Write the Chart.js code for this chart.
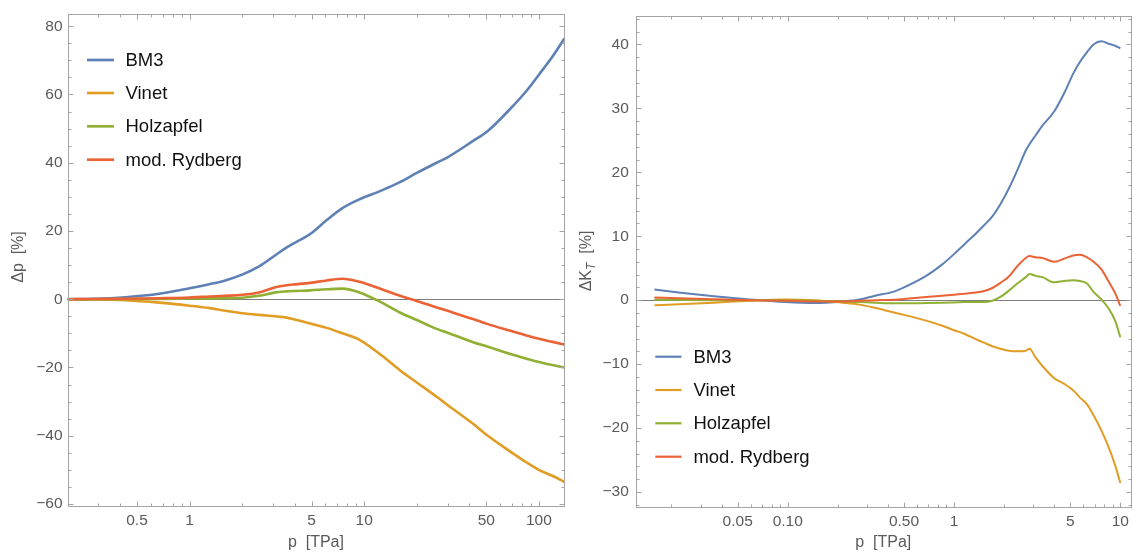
<!DOCTYPE html>
<html>
<head>
<meta charset="utf-8">
<title>EOS deviations</title>
<script src="https://cdn.jsdelivr.net/npm/chart.js@4.4.1/dist/chart.umd.min.js"></script>
<style>
  html, body { margin: 0; padding: 0; background: #fff; }
  #wrap { position: relative; width: 1134px; height: 552px; }
  canvas { position: absolute; top: 0; }
  #pressure { left: 0; }
  #bulk { left: 567px; }
</style>
</head>
<body>
<div id="wrap">
  <canvas id="pressure" width="567" height="552"></canvas>
  <canvas id="bulk" width="567" height="552"></canvas>
</div>
<script>
const FONT = "'Liberation Sans', Arial, sans-serif";

const seriesNames = ['BM3', 'Vinet', 'Holzapfel', 'mod. Rydberg'];
const seriesColors = ['#5e81b5', '#e19c24', '#8fb032', '#eb6235'];

// left panel: pressure deviation Δp [%] vs p [TPa]
const pLeft = [0.2, 0.28, 0.43, 0.67, 1.0, 1.3, 1.6, 2.0, 2.5, 3.1, 3.6, 3.9, 4.9, 6.1, 7.5, 9.4,
               12.6, 16, 20, 26, 30, 42, 51, 68, 86, 100, 120, 140];
const dpBM3 = [0, 0.1, 0.6, 1.6, 3.2, 4.4, 5.5, 7.2, 9.6, 12.9, 15.2, 16.2, 19.1, 23.2, 26.7, 29.3,
               31.9, 34.3, 37.0, 40.0, 41.6, 46.4, 49.3, 55.6, 61.4, 65.8, 71.2, 76.4];
const dpVinet = [0, -0.05, -0.3, -1.0, -1.9, -2.6, -3.4, -4.1, -4.6, -5.0, -5.4, -5.8, -7.1, -8.4, -10.0, -11.9,
                 -16.5, -20.8, -24.4, -28.6, -31.0, -36.5, -40.0, -44.5, -48.0, -50.0, -51.8, -53.5];
const dpHolzapfel = [0, 0, 0.05, 0.1, 0.2, 0.25, 0.3, 0.45, 1.0, 2.0, 2.3, 2.4, 2.6, 2.9, 3.1, 2.0,
                     -1.0, -3.9, -6.1, -8.7, -9.8, -12.6, -13.9, -16.0, -17.5, -18.4, -19.3, -20.0];
const dpRydberg = [0, 0.05, 0.15, 0.3, 0.5, 0.8, 1.0, 1.3, 2.0, 3.5, 4.1, 4.3, 4.8, 5.5, 6.0, 5.1,
                   2.9, 1.0, -0.5, -2.4, -3.4, -5.8, -7.3, -9.2, -10.7, -11.6, -12.5, -13.3];

// right panel: bulk modulus deviation ΔK_T [%] vs p [TPa]
const pRight = [0.0158, 0.022, 0.036, 0.059, 0.097, 0.144, 0.214, 0.27, 0.335, 0.43, 0.5, 0.68, 0.85, 1.0,
                1.16, 1.35, 1.5, 1.7, 1.9, 2.14, 2.4, 2.7, 2.84, 3.1, 3.4, 4.0, 4.6, 5.2, 5.7, 6.3,
                6.9, 7.7, 8.5, 9.3, 10];
const dkBM3 = [1.65, 1.2, 0.6, 0.1, -0.3, -0.45, -0.2, 0.1, 0.7, 1.3, 2.0, 3.8, 5.6, 7.2,
               8.8, 10.4, 11.6, 13.1, 15.0, 17.5, 20.3, 23.4, 24.4, 25.8, 27.3, 29.5, 32.4, 35.4, 37.2, 38.8,
               40.0, 40.5, 40.1, 39.8, 39.4];
const dkVinet = [-0.8, -0.65, -0.4, -0.1, 0.1, 0.0, -0.4, -0.7, -1.2, -1.9, -2.3, -3.2, -4.0, -4.7,
                 -5.3, -6.1, -6.6, -7.2, -7.6, -7.9, -8.0, -7.9, -7.6, -9.0, -10.3, -12.2, -13.1, -14.1, -15.2, -16.3,
                 -18.0, -20.4, -23.0, -25.8, -28.6];
const dkHolzapfel = [0.1, 0.05, 0, 0, -0.05, -0.1, -0.2, -0.3, -0.4, -0.5, -0.5, -0.45, -0.4, -0.35,
                     -0.3, -0.3, -0.3, -0.1, 0.5, 1.5, 2.6, 3.6, 4.1, 3.8, 3.6, 2.8, 3.0, 3.1, 3.0, 2.6,
                     1.3, 0.1, -1.3, -3.2, -5.8];
const dkRydberg = [0.4, 0.3, 0.15, 0, -0.1, -0.2, -0.2, -0.1, 0, 0.05, 0.2, 0.5, 0.7, 0.85,
                   1.0, 1.2, 1.4, 1.9, 2.7, 3.7, 5.3, 6.6, 6.9, 6.7, 6.6, 6.0, 6.5, 7.0, 7.1, 6.7,
                   6.0, 4.8, 2.9, 1.1, -0.9];

// tick values and labels
const leftXTicks = [0.5, 1, 5, 10, 50, 100];
const leftXLabels = ['0.5', '1', '5', '10', '50', '100'];
const leftYTicks = [-60, -40, -20, 0, 20, 40, 60, 80];
const rightXTicks = [0.05, 0.1, 0.5, 1, 5, 10];
const rightXLabels = ['0.05', '0.10', '0.50', '1', '5', '10'];
const rightYTicks = [-30, -20, -10, 0, 10, 20, 30, 40];

function fmtY(v) {
  return v < 0 ? '\u2212' + Math.abs(v) : String(v);
}

function logMinors(min, max, majors) {
  const out = [];
  for (let d = Math.floor(Math.log10(min)); d <= Math.ceil(Math.log10(max)); d++) {
    for (let k = 1; k <= 9; k++) {
      const v = +(k * Math.pow(10, d)).toPrecision(6);
      if (v >= min && v <= max && !majors.some(m => Math.abs(m - v) < v * 1e-6)) out.push(v);
    }
  }
  return out;
}

function linMinors(min, max, step, majors) {
  const out = [];
  for (let v = Math.ceil(min / step) * step; v <= max; v += step) {
    if (!majors.includes(v)) out.push(v);
  }
  return out;
}

// zero line under the curves, grey frame with inward ticks on all four sides
const framePlugin = {
  id: 'frame',
  beforeDatasetsDraw(chart) {
    const { ctx, chartArea: a, scales: { y } } = chart;
    const y0 = Math.round(y.getPixelForValue(0)) + 0.5;
    ctx.save();
    ctx.strokeStyle = '#7d7d7d';
    ctx.lineWidth = 1;
    ctx.beginPath();
    ctx.moveTo(a.left, y0);
    ctx.lineTo(a.right, y0);
    ctx.stroke();
    ctx.restore();
  },
  afterDatasetsDraw(chart, args, o) {
    const { ctx, chartArea: a, scales: { x, y } } = chart;
    const L = Math.round(a.left) + 0.5, R = Math.round(a.right) + 0.5;
    const T = Math.round(a.top) + 0.5, B = Math.round(a.bottom) + 0.5;
    ctx.save();
    ctx.strokeStyle = '#a4a4a4';
    ctx.lineWidth = 1;
    ctx.strokeRect(L, T, R - L, B - T);
    ctx.beginPath();
    const xt = (v, len) => {
      const px = Math.round(x.getPixelForValue(v)) + 0.5;
      if (px < L || px > R) return;
      ctx.moveTo(px, B); ctx.lineTo(px, B - len);
      ctx.moveTo(px, T); ctx.lineTo(px, T + len);
    };
    const yt = (v, len) => {
      const py = Math.round(y.getPixelForValue(v)) + 0.5;
      if (py < T || py > B) return;
      ctx.moveTo(L, py); ctx.lineTo(L + len, py);
      ctx.moveTo(R, py); ctx.lineTo(R - len, py);
    };
    o.xMajor.forEach(v => xt(v, 5));
    o.xMinor.forEach(v => xt(v, 3));
    o.yMajor.forEach(v => yt(v, 5));
    o.yMinor.forEach(v => yt(v, 3));
    ctx.stroke();
    ctx.restore();
  }
};

// legend drawn inside the plot area, lines and names taken from the datasets
const insideLegend = {
  id: 'insideLegend',
  afterDraw(chart, args, o) {
    const ctx = chart.ctx;
    ctx.save();
    ctx.font = o.fontSize + 'px ' + FONT;
    ctx.textBaseline = 'middle';
    ctx.textAlign = 'left';
    chart.data.datasets.forEach((ds, i) => {
      const yy = o.rows[i];
      ctx.strokeStyle = ds.borderColor;
      ctx.lineWidth = o.lineWidth;
      ctx.beginPath();
      ctx.moveTo(o.x1, yy);
      ctx.lineTo(o.x2, yy);
      ctx.stroke();
      ctx.fillStyle = '#111';
      ctx.fillText(ds.label, o.textX, yy + 1);
    });
    ctx.restore();
  }
};

// axis titles; the vertical one may carry a subscript run
const axisTitles = {
  id: 'axisTitles',
  afterDraw(chart, args, o) {
    const { ctx, chartArea: a } = chart;
    ctx.save();
    ctx.fillStyle = '#5a5a5a';
    ctx.textBaseline = 'middle';
    ctx.textAlign = 'center';
    ctx.font = o.size + 'px ' + FONT;
    ctx.fillText(o.xText, (a.left + a.right) / 2, o.xY);

    ctx.translate(o.yX, o.yCY);
    ctx.rotate(-Math.PI / 2);
    ctx.textAlign = 'left';
    const fonts = o.yRuns.map(r => r.sub ? 'italic ' + Math.round(o.size * 0.72) + 'px ' + FONT : o.size + 'px ' + FONT);
    const widths = o.yRuns.map((r, i) => { ctx.font = fonts[i]; return ctx.measureText(r.t).width; });
    let cx = -widths.reduce((s, w) => s + w, 0) / 2;
    o.yRuns.forEach((r, i) => {
      ctx.font = fonts[i];
      ctx.fillText(r.t, cx, r.sub ? o.size * 0.3 : 0);
      cx += widths[i];
    });
    ctx.restore();
  }
};

function makeChart(id, cfg) {
  const datasets = cfg.series.map((vals, i) => ({
    label: seriesNames[i],
    data: cfg.p.map((p, j) => ({ x: p, y: vals[j] })),
    borderColor: seriesColors[i],
    backgroundColor: seriesColors[i],
    borderWidth: cfg.lineWidth,
    pointRadius: 0,
    cubicInterpolationMode: 'monotone',
    order: cfg.series.length - i
  }));

  return new Chart(document.getElementById(id), {
    type: 'line',
    data: { datasets },
    options: {
      responsive: false,
      animation: false,
      layout: { padding: { left: 0, right: cfg.padRight, top: cfg.padTop, bottom: 0 } },
      plugins: {
        legend: { display: false },
        tooltip: { enabled: false },
        frame: {
          xMajor: cfg.xTicks,
          xMinor: logMinors(cfg.xMin, cfg.xMax, cfg.xTicks),
          yMajor: cfg.yTicks,
          yMinor: linMinors(cfg.yMin, cfg.yMax, cfg.yMinorStep, cfg.yTicks)
        },
        insideLegend: cfg.legend,
        axisTitles: cfg.titles
      },
      scales: {
        x: {
          type: 'logarithmic',
          min: cfg.xMin,
          max: cfg.xMax,
          grid: { display: false, drawTicks: false },
          border: { display: false },
          afterBuildTicks: s => { s.ticks = cfg.xTicks.map(v => ({ value: v })); },
          afterFit: s => { s.height = cfg.xHeight; },
          ticks: {
            autoSkip: false,
            maxRotation: 0,
            padding: 5,
            color: '#5a5a5a',
            font: { family: FONT, size: 15.5 },
            callback: (v, i) => cfg.xLabels[i]
          }
        },
        y: {
          type: 'linear',
          min: cfg.yMin,
          max: cfg.yMax,
          grid: { display: false, drawTicks: false },
          border: { display: false },
          afterBuildTicks: s => { s.ticks = cfg.yTicks.map(v => ({ value: v })); },
          afterFit: s => { s.width = cfg.yWidth; },
          ticks: {
            padding: cfg.yPad,
            color: '#5a5a5a',
            font: { family: FONT, size: 15.5 },
            callback: v => fmtY(v)
          }
        }
      }
    },
    plugins: [framePlugin, insideLegend, axisTitles]
  });
}

makeChart('pressure', {
  p: pLeft,
  series: [dpBM3, dpVinet, dpHolzapfel, dpRydberg],
  lineWidth: 2.6,
  xMin: 0.2, xMax: 140,
  yMin: -60.6, yMax: 83.5,
  xTicks: leftXTicks, xLabels: leftXLabels,
  yTicks: leftYTicks, yMinorStep: 5,
  yWidth: 67.5, xHeight: 46, padRight: 2.6, padTop: 10.7, yPad: 5,
  legend: { x1: 87, x2: 114, textX: 125.5, rows: [60, 93, 126.3, 159.7], fontSize: 18.5, lineWidth: 2.7 },
  titles: { size: 16, xText: 'p  [TPa]', xY: 543, yX: 18.5, yCY: 257, yRuns: [{ t: '\u0394p  [%]' }] }
});

makeChart('bulk', {
  p: pRight,
  series: [dkBM3, dkVinet, dkHolzapfel, dkRydberg],
  lineWidth: 2.0,
  xMin: 0.0122, xMax: 11.53,
  yMin: -32.4, yMax: 44.4,
  xTicks: rightXTicks, xLabels: rightXLabels,
  yTicks: rightYTicks, yMinorStep: 2,
  yWidth: 68.8, xHeight: 44.7, padRight: 2.1, padTop: 11, yPad: 7,
  legend: { x1: 88.3, x2: 114.5, textX: 126.4, rows: [356.7, 390, 423.3, 456.7], fontSize: 18.5, lineWidth: 2.2 },
  titles: { size: 16, xText: 'p  [TPa]', xY: 543, yX: 20, yCY: 261,
            yRuns: [{ t: '\u0394K' }, { t: 'T', sub: true }, { t: '  [%]' }] }
});
</script>
</body>
</html>
